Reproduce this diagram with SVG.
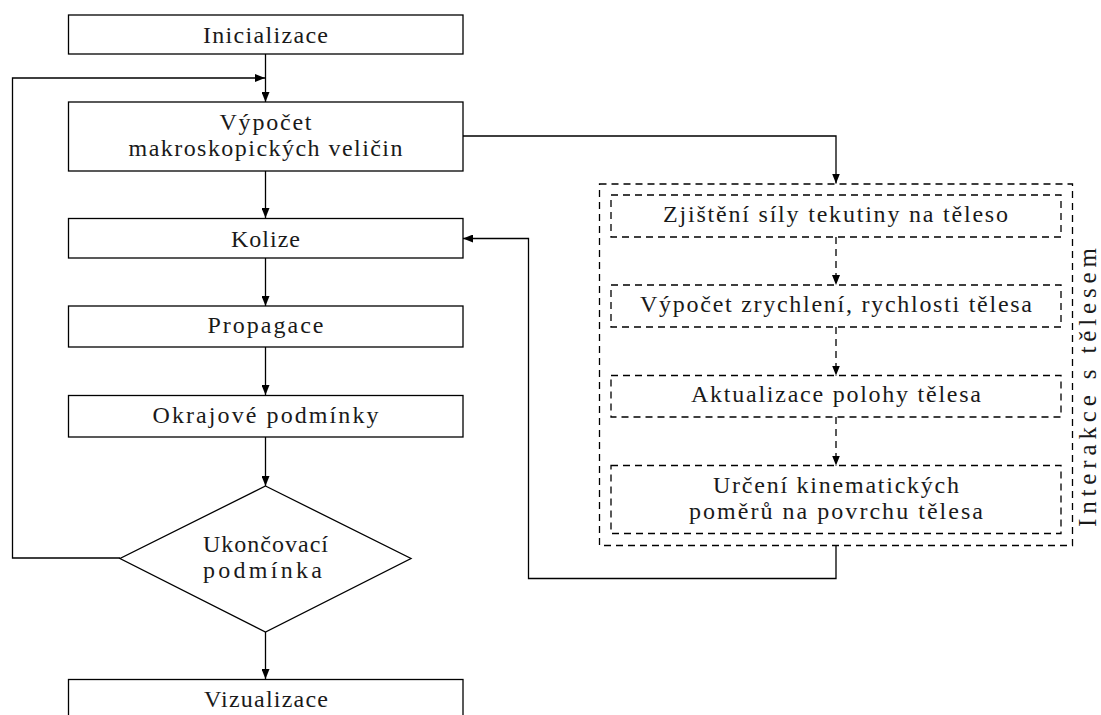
<svg xmlns="http://www.w3.org/2000/svg" width="1101" height="715" viewBox="0 0 1101 715">
  <style>
    .box { fill: #ffffff; stroke: #000000; stroke-width: 1.3; }
    .dbox { fill: none; stroke: #000000; stroke-width: 1.3; stroke-dasharray: 7 5; }
    .edge { fill: none; stroke: #000000; stroke-width: 1.3; }
    .dedge { fill: none; stroke: #000000; stroke-width: 1.3; stroke-dasharray: 7 5; }
    .lbl { font-family: 'Liberation Serif', 'Times New Roman', serif; font-size: 24px; fill: #1a1a1a; text-anchor: middle; }
    .side { font-size: 25px; }
  </style>
  <defs>
    <marker id="arrow" viewBox="0 0 10 8" refX="10" refY="4" markerWidth="10" markerHeight="8" markerUnits="userSpaceOnUse" orient="auto">
      <path d="M0,0 L10,4 L0,8 Z" fill="#000000"/>
    </marker>
  </defs>

  <rect width="1101" height="715" fill="#ffffff"/>

  <!-- connectors -->
  <g id="connectors">
    <line class="edge" x1="265.5" y1="54" x2="265.5" y2="102" marker-end="url(#arrow)"/>
    <polyline class="edge" points="120,558 12.5,558 12.5,78 265,78" marker-end="url(#arrow)"/>
    <line class="edge" x1="265.5" y1="171" x2="265.5" y2="218" marker-end="url(#arrow)"/>
    <line class="edge" x1="265.5" y1="258" x2="265.5" y2="306" marker-end="url(#arrow)"/>
    <line class="edge" x1="265.5" y1="347" x2="265.5" y2="395" marker-end="url(#arrow)"/>
    <line class="edge" x1="265.5" y1="437" x2="265.5" y2="486" marker-end="url(#arrow)"/>
    <line class="edge" x1="265.5" y1="632" x2="265.5" y2="679" marker-end="url(#arrow)"/>
    <polyline class="edge" points="463,136 836,136 836,183.5" marker-end="url(#arrow)"/>
    <line class="dedge" x1="836" y1="237" x2="836" y2="285" marker-end="url(#arrow)"/>
    <line class="dedge" x1="836" y1="327" x2="836" y2="375.5" marker-end="url(#arrow)"/>
    <line class="dedge" x1="836" y1="417" x2="836" y2="465.5" marker-end="url(#arrow)"/>
    <polyline class="edge" points="836,545.5 836,578.5 528.5,578.5 528.5,238.5 463,238.5" marker-end="url(#arrow)"/>
  </g>

  <!-- main loop -->
  <g id="inicializace">
    <rect class="box" x="68.5" y="15" width="394.5" height="39"/>
    <text class="lbl" x="265.5" y="43" textLength="125">Inicializace</text>
  </g>
  <g id="vypocet-makro">
    <rect class="box" x="68.5" y="102" width="394.5" height="69"/>
    <text class="lbl" x="265.5" y="130" textLength="92">Výpočet</text>
    <text class="lbl" x="265.5" y="156" textLength="274">makroskopických veličin</text>
  </g>
  <g id="kolize">
    <rect class="box" x="68.5" y="218.5" width="394.5" height="39.5"/>
    <text class="lbl" x="265.5" y="246.5" textLength="69">Kolize</text>
  </g>
  <g id="propagace">
    <rect class="box" x="68.5" y="306" width="394.5" height="41"/>
    <text class="lbl" x="265.5" y="333" textLength="116">Propagace</text>
  </g>
  <g id="okrajove-podminky">
    <rect class="box" x="68.5" y="395.5" width="394.5" height="41.5"/>
    <text class="lbl" x="265.5" y="423" textLength="226">Okrajové podmínky</text>
  </g>
  <g id="ukoncovaci-podminka">
    <polygon class="box" points="265.5,486 411,558.5 265.5,632 120,558.5"/>
    <text class="lbl" x="265.5" y="552" textLength="125">Ukončovací</text>
    <text class="lbl" x="262.5" y="578" textLength="119">podmínka</text>
  </g>
  <g id="vizualizace">
    <rect class="box" x="68.5" y="679.5" width="394.5" height="60"/>
    <text class="lbl" x="266" y="707" textLength="124">Vizualizace</text>
  </g>

  <!-- body interaction block -->
  <g id="interakce">
    <rect class="dbox" x="599.5" y="184" width="473" height="361.5"/>
    <text class="lbl side" transform="translate(1096,387.5) rotate(-90)" textLength="279">Interakce s tělesem</text>
  </g>
  <g id="sila-tekutiny">
    <rect class="dbox" x="611" y="195" width="450" height="42"/>
    <text class="lbl" x="835.5" y="221.5" textLength="345">Zjištění síly tekutiny na těleso</text>
  </g>
  <g id="zrychleni-rychlost">
    <rect class="dbox" x="611" y="285" width="450" height="42"/>
    <text class="lbl" x="836" y="311.5" textLength="392">Výpočet zrychlení, rychlosti tělesa</text>
  </g>
  <g id="poloha-telesa">
    <rect class="dbox" x="611" y="375.5" width="450" height="41.5"/>
    <text class="lbl" x="836" y="401.5" textLength="290">Aktualizace polohy tělesa</text>
  </g>
  <g id="kinematicke-pomery">
    <rect class="dbox" x="611" y="465.5" width="450" height="68"/>
    <text class="lbl" x="836" y="493" textLength="246">Určení kinematických</text>
    <text class="lbl" x="836" y="518.5" textLength="294">poměrů na povrchu tělesa</text>
  </g>
</svg>
